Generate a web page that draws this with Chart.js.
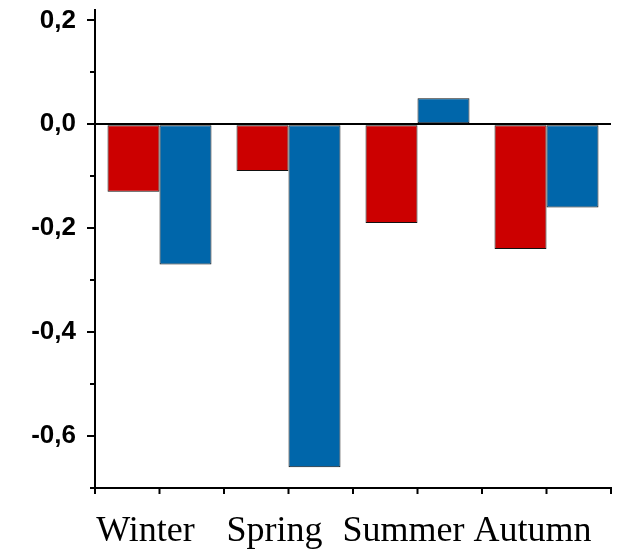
<!DOCTYPE html>
<html>
<head>
<meta charset="utf-8">
<script src="https://cdn.jsdelivr.net/npm/chart.js@4.4.1/dist/chart.umd.min.js"></script>
<style>
  html, body { margin: 0; padding: 0; background: #fff; }
  #wrap { width: 620px; height: 553px; }
</style>
</head>
<body>
<div id="wrap"><canvas id="seasonChart" width="620" height="553"></canvas></div>
<script>
(function(){
  'use strict';

  const seasons = ['Winter', 'Spring', 'Summer', 'Autumn'];
  const redValues = [-0.13, -0.09, -0.19, -0.24];
  const blueValues = [-0.27, -0.66, 0.05, -0.16];
  const yMajorTicks = [-0.6, -0.4, -0.2, 0.0, 0.2];
  const yMinorTicks = [-0.7, -0.5, -0.3, -0.1, 0.1];

  // short ticks between the labelled ones, and category edges on the x axis
  const extraTicks = {
    id: 'extraTicks',
    afterDraw(chart) {
      const ctx = chart.ctx;
      const x = chart.scales.x;
      const y = chart.scales.y;
      ctx.save();
      ctx.strokeStyle = '#000';
      ctx.lineWidth = 2;
      ctx.beginPath();
      yMinorTicks.forEach(function(v) {
        const py = Math.round(y.getPixelForValue(v));
        ctx.moveTo(y.right - 5, py);
        ctx.lineTo(y.right, py);
      });
      for (let i = 0; i <= seasons.length; i++) {
        const px = Math.round(x.getPixelForValue(i - 0.5));
        ctx.moveTo(px, x.top);
        ctx.lineTo(px, x.top + 6);
      }
      ctx.stroke();
      ctx.restore();
    }
  };

  const c1 = document.getElementById('seasonChart');

  const chart1 = new Chart(c1, {
    type: 'bar',
    data: {
      labels: seasons,
      datasets: [{
        data: redValues,
        backgroundColor: '#CC0000',
        borderColor: '#111',
        borderWidth: 1,
        borderSkipped: false
      }, {
        data: blueValues,
        backgroundColor: '#0066AA',
        borderColor: '#111',
        borderWidth: 1,
        borderSkipped: false
      }]
    },
    options: {
      responsive: false,
      animation: false,
      layout: { padding: { left: 0, right: 9, top: 10, bottom: 0 } },
      datasets: {
        bar: { barPercentage: 1, categoryPercentage: 0.806 }
      },
      plugins: {
        legend: { display: false },
        tooltip: { enabled: false }
      },
      scales: {
        x: {
          grid: {
            offset: false,
            drawOnChartArea: false,
            tickLength: 6,
            tickColor: '#000',
            tickWidth: 2
          },
          border: { color: '#000', width: 2 },
          ticks: {
            color: '#000',
            padding: 16,
            labelOffset: -14,
            font: { family: '"Liberation Serif", "Times New Roman", serif', size: 36 }
          },
          afterFit: function(s) {
            s.height = 65;
            s.paddingLeft = 0;
            s.paddingRight = 0;
          }
        },
        y: {
          min: -0.7,
          max: 0.22,
          afterBuildTicks: function(axis) {
            axis.ticks = yMajorTicks.map(function(v) { return { value: v }; });
          },
          grid: {
            color: function(ctx) {
              return ctx.tick && ctx.tick.value === 0 ? '#000' : 'rgba(0,0,0,0)';
            },
            lineWidth: 2,
            tickLength: 8,
            tickColor: '#000',
            tickWidth: 2
          },
          border: { color: '#000', width: 2 },
          ticks: {
            color: '#000',
            padding: 11,
            font: { family: '"Liberation Sans", Arial, sans-serif', size: 26, weight: 'bold' },
            callback: function(v) { return Number(v).toFixed(1).replace('.', ','); }
          },
          afterFit: function(s) {
            s.width = 95;
            s.paddingTop = 0;
            s.paddingBottom = 0;
          }
        }
      }
    },
    plugins: [extraTicks]
  });

}());
</script>
</body>
</html>
